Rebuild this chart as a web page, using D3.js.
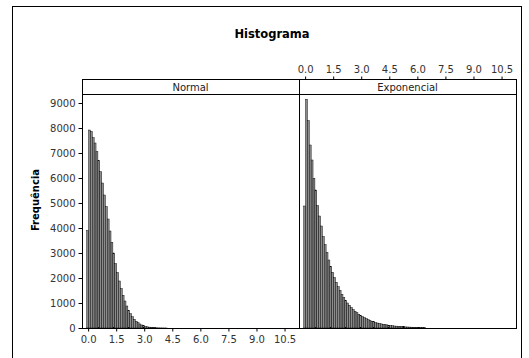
<!DOCTYPE html>
<html><head><meta charset="utf-8">
<script src="https://cdn.jsdelivr.net/npm/d3@7"></script>
<style>html,body{margin:0;padding:0;background:#fff;}svg{display:block;}</style>
</head><body>
<script>
// ---- data ----
const title = "Histograma";
const yLabel = "Frequência";
const panels = ["Normal", "Exponencial"];
const binWidth = 0.1;
const normalCenters = [0,0.1,0.2,0.3,0.4,0.5,0.6,0.7,0.8,0.9,1.0,1.1,1.2,1.3,1.4,1.5,1.6,1.7,1.8,1.9,2.0,2.1,2.2,2.3,2.4,2.5,2.6,2.7,2.8,2.9,3.0,3.1,3.2,3.3,3.4,3.5,3.6,3.7,3.8,3.9,4.0,4.1,4.2];
const normalCounts = [3900,7920,7860,7610,7400,7050,6700,6250,5800,5320,4850,4360,3880,3430,3000,2580,2220,1880,1580,1310,1080,880,710,570,450,350,270,210,160,120,90,65,48,34,25,17,12,8,6,4,3,2,1];
const expCenters = [0,0.1,0.2,0.3,0.4,0.5,0.6,0.7,0.8,0.9,1.0,1.1,1.2,1.3,1.4,1.5,1.6,1.7,1.8,1.9,2.0,2.1,2.2,2.3,2.4,2.5,2.6,2.7,2.8,2.9,3.0,3.1,3.2,3.3,3.4,3.5,3.6,3.7,3.8,3.9,4.0,4.1,4.2,4.3,4.4,4.5,4.6,4.7,4.8,4.9,5.0,5.1,5.2,5.3,5.4,5.5,5.6,5.7,5.8,5.9,6.0,6.1,6.2,6.3,6.4];
const expCounts = [4880,9150,8290,7320,6720,5990,5520,4900,4480,4080,3660,3330,3020,2720,2470,2230,2020,1830,1650,1500,1350,1220,1110,1000,910,820,740,670,610,550,500,450,410,370,330,300,270,250,220,200,185,165,150,135,125,110,100,90,80,75,67,60,55,50,45,40,37,33,30,27,25,22,20,18,17];
const xTicks = [0,1.5,3.0,4.5,6.0,7.5,9.0,10.5];
const yTicks = [0,1000,2000,3000,4000,5000,6000,7000,8000,9000];

// ---- layout ----
const W = 529, H = 358;
const panelLeft = 82, panelW = 217, stripTop = 79, stripBottom = 94, plotBottom = 328;
const font = "DejaVu Sans, Verdana, sans-serif";
const svg = d3.select("body").append("svg").attr("width", W).attr("height", H);

svg.append("rect").attr("x", 12.5).attr("y", 6.5).attr("width", 509).attr("height", 360)
  .attr("fill", "none").attr("stroke", "#000").attr("stroke-width", 1);

svg.append("text").attr("x", 272).attr("y", 37.5).attr("text-anchor", "middle")
  .attr("font-family", font).attr("font-size", 11.5).attr("font-weight", "bold").attr("fill", "#000").text(title);

const x = d3.scaleLinear().domain([-0.3, 11.3]).range([0, panelW]);
const y = d3.scaleLinear().domain([0, 9360]).range([plotBottom, stripBottom]);

const seriesData = [
  normalCenters.map((c, i) => ({c, v: normalCounts[i]})),
  expCenters.map((c, i) => ({c, v: expCounts[i]}))
];

panels.forEach((name, p) => {
  const g = svg.append("g").attr("transform", `translate(${panelLeft + p * panelW},0)`);
  g.selectAll("rect.bar").data(seriesData[p]).join("rect").attr("class", "bar")
    .attr("x", d => x(d.c - binWidth / 2))
    .attr("width", x(binWidth) - x(0))
    .attr("y", d => y(d.v))
    .attr("height", d => plotBottom - y(d.v))
    .attr("fill", "#8c8c8c").attr("stroke", "#000").attr("stroke-width", 0.45);
  g.append("rect").attr("x", 0.5).attr("y", stripTop + 0.5).attr("width", panelW).attr("height", plotBottom - stripTop)
    .attr("fill", "none").attr("stroke", "#000").attr("stroke-width", 1);
  g.append("line").attr("x1", 0).attr("x2", panelW).attr("y1", stripBottom + 0.5).attr("y2", stripBottom + 0.5)
    .attr("stroke", "#000");
  g.append("text").attr("x", panelW / 2).attr("y", stripTop + 11.5).attr("text-anchor", "middle")
    .attr("font-family", font).attr("font-size", 10).attr("fill", "#222").text(name);
});

const yAxis = svg.append("g").attr("transform", `translate(${panelLeft + 0.5},0)`)
  .call(d3.axisLeft(y).tickValues(yTicks).tickSize(4).tickPadding(3).tickFormat(d3.format("d")));
yAxis.select(".domain").remove();
const xb = svg.append("g").attr("transform", `translate(${panelLeft + 0.5},${plotBottom + 0.5})`)
  .call(d3.axisBottom(x).tickValues(xTicks).tickSize(3).tickPadding(4).tickFormat(d3.format(".1f")));
xb.select(".domain").remove();
const xt = svg.append("g").attr("transform", `translate(${panelLeft + panelW + 0.5},${stripTop + 0.5})`)
  .call(d3.axisTop(x).tickValues(xTicks).tickSize(3).tickPadding(4).tickFormat(d3.format(".1f")));
xt.select(".domain").remove();
svg.selectAll(".tick text").attr("font-family", font).attr("font-size", 10).attr("fill", "#333");
svg.selectAll(".tick line").attr("stroke", "#000");

svg.append("text").attr("transform", `translate(39,200) rotate(-90)`).attr("text-anchor", "middle")
  .attr("font-family", font).attr("font-size", 10).attr("font-weight", "bold").attr("fill", "#000").text(yLabel);
</script>
</body></html>
